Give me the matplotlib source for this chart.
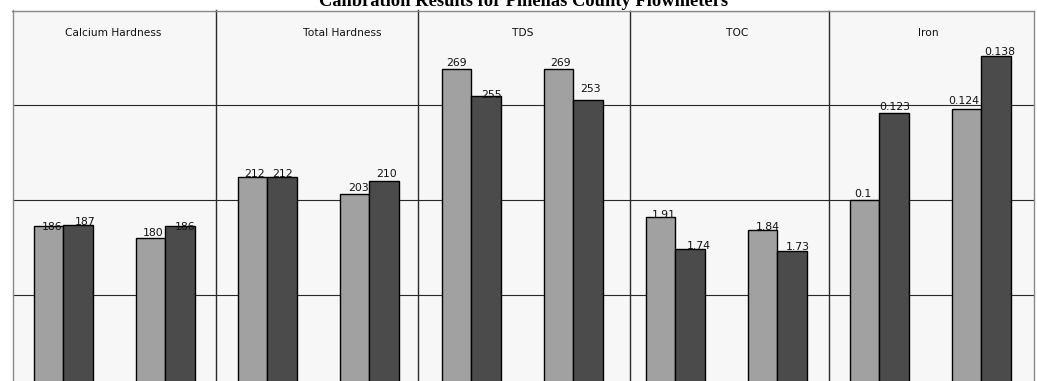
import matplotlib
matplotlib.use("Agg")
import matplotlib.pyplot as plt
from matplotlib.ticker import MultipleLocator

# 数据
title = "Calibration Results for Pinellas County Flowmeters"
categories = ["Calcium Hardness", "Total Hardness", "TDS", "TOC", "Iron"]
series_a = [[186, 180], [212, 203], [269, 269], [1.91, 1.84], [0.1, 0.124]]
series_b = [[187, 186], [212, 210], [255, 253], [1.74, 1.73], [0.123, 0.138]]
y_tops = [300, 300, 300, 3, 0.15]
y_steps = [50, 50, 50, 0.5, 0.025]

# 布局（像素）
W, H = 1037, 381
panel_edges = [12.5, 215.7, 418, 630, 829, 1033.5]
first_center = 63.3
group_gap = 102.0
bar_px = 29.3
top_px, zero_px = 10.5, 578.7
header_x = [113.5, 342, 522.7, 737, 928.7]
header_base = 36

# 标签微调 (dx, dy)，像素
label_nudge = [
    [(3, -4), (7, -0.7), (2.5, 1.4), (4.7, -4)],
    [(2.3, 0), (1, 0), (4, 3), (2.4, 3.7)],
    [(0, 3.6), (6, -2.3), (2, 3.6), (2.5, 8)],
    [(2.7, -0.6), (8.5, 0), (5, 0), (5.5, 1.4)],
    [(-2, 2.7), (1, 2.6), (-2.5, 4.7), (3.5, 0.7)],
]

light, dark = "#a1a1a1", "#4b4b4b"
frame_col, sep_col = "#8a8a8a", "#2a2a2a"

fig = plt.figure(figsize=(W / 100, H / 100), dpi=100, facecolor="white")
w = bar_px / group_gap

for p, cat in enumerate(categories):
    L, R = panel_edges[p], panel_edges[p + 1]
    ax = fig.add_axes([L / W, 1 - zero_px / H, (R - L) / W, (zero_px - top_px) / H])
    ax.set_facecolor("#f7f7f7")
    c0 = first_center + 2 * group_gap * p
    ax.set_xlim((L - c0) / group_gap, (R - c0) / group_gap)
    ax.set_ylim(0, y_tops[p])

    xs = [0, 1]
    ax.bar([x - w / 2 for x in xs], series_a[p], width=w, color=light,
           edgecolor="black", linewidth=1.0, zorder=3)
    ax.bar([x + w / 2 for x in xs], series_b[p], width=w, color=dark,
           edgecolor="black", linewidth=1.0, zorder=3)

    # 数值标签
    items = [(xs[0] - w / 2, series_a[p][0]), (xs[0] + w / 2, series_b[p][0]),
             (xs[1] - w / 2, series_a[p][1]), (xs[1] + w / 2, series_b[p][1])]
    for (x, v), (dx, dy) in zip(items, label_nudge[p]):
        ax.annotate(f"{v:g}", (x, v), xytext=(dx * 0.72, dy * 0.72),
                    textcoords="offset points", ha="center", va="baseline",
                    fontsize=7.8, color="#111111", zorder=4)

    ax.yaxis.set_major_locator(MultipleLocator(y_steps[p]))
    ax.grid(axis="y", color=sep_col, linewidth=0.8, zorder=1)
    ax.tick_params(left=False, bottom=False, labelleft=False, labelbottom=False)
    ax.spines["bottom"].set_visible(False)
    ax.spines["top"].set_color(frame_col)
    ax.spines["left"].set_color(frame_col if p == 0 else sep_col)
    if p == len(categories) - 1:
        ax.spines["right"].set_color(frame_col)
    else:
        ax.spines["right"].set_visible(False)
    for s in ax.spines.values():
        s.set_linewidth(1.0)

    fig.text(header_x[p] / W, 1 - header_base / H, cat, ha="center",
             va="baseline", fontsize=7.7, color="#111111")

# 标题（原图顶部被裁掉一半）
fig.text(523.5 / W, 1 - 6 / H, title, ha="center", va="baseline",
         fontsize=13.3, fontweight="bold", family="Liberation Serif")

fig.savefig("out.png", dpi=100, facecolor="white")
